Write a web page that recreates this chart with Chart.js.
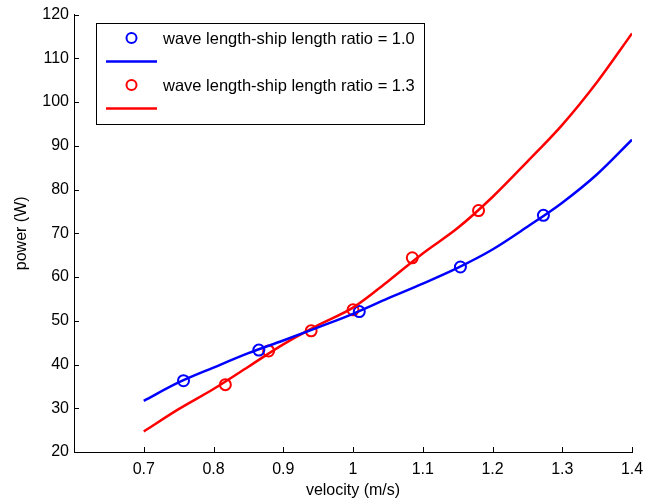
<!DOCTYPE html>
<html>
<head>
<meta charset="utf-8">
<script src="https://cdn.jsdelivr.net/npm/chart.js@4/dist/chart.umd.min.js"></script>
<style>
  html, body { margin: 0; padding: 0; background: #fff; }
  #wrap { width: 659px; height: 502px; }
</style>
</head>
<body>
<div id="wrap"><canvas id="chart" width="659" height="502"></canvas></div>
<script>
// curve samples (velocity m/s -> power W)
const velocidad = [0.70, 0.75, 0.80, 0.85, 0.90, 0.95, 1.00, 1.05, 1.10, 1.15, 1.20, 1.25, 1.30, 1.35, 1.40];
const potencia10 = [31.7, 35.9, 39.3, 42.6, 45.5, 48.5, 51.6, 55.1, 58.5, 62.1, 66.3, 71.5, 77.0, 83.5, 91.4];
const potencia13 = [24.7, 29.8, 34.4, 39.5, 44.6, 49.0, 53.0, 59.0, 65.4, 71.2, 78.3, 86.4, 94.8, 104.6, 115.7];

// measured points (circles)
const medX10 = [0.757, 0.865, 1.009, 1.154, 1.273];
const medY10 = [36.3, 43.3, 52.1, 62.3, 74.1];
const medX13 = [0.817, 0.879, 0.940, 1.000, 1.085, 1.180];
const medY13 = [35.4, 43.1, 47.7, 52.5, 64.4, 75.2];

const ticksX = [0.7, 0.8, 0.9, 1.0, 1.1, 1.2, 1.3, 1.4];
const ticksY = [20, 30, 40, 50, 60, 70, 80, 90, 100, 110, 120];

const etiquetas = ['wave length-ship length ratio = 1.0', 'wave length-ship length ratio = 1.3'];

const FUENTE = '"Liberation Sans", Arial, sans-serif';
const AZUL = '#0000ff';
const ROJO = '#ff0000';

const puntos = (xs, ys) => xs.map((x, i) => ({ x: x, y: ys[i] }));

// Ticks hacia adentro + leyenda estilo MATLAB
const extras = {
    id: 'extras',
    afterDraw(chart) {
        const c = chart.ctx;
        const sx = chart.scales.x, sy = chart.scales.y;
        const a = chart.chartArea;
        c.save();
        c.strokeStyle = '#000';
        c.lineWidth = 1;
        c.beginPath();
        ticksX.forEach(v => {
            const px = Math.round(sx.getPixelForValue(v)) + 0.5;
            c.moveTo(px, a.bottom);
            c.lineTo(px, a.bottom - 5);
        });
        ticksY.forEach(v => {
            const py = Math.round(sy.getPixelForValue(v)) + 0.5;
            c.moveTo(a.left, py);
            c.lineTo(a.left + 5, py);
        });
        c.stroke();

        // leyenda
        const bx = 96, by = 23, bw = 328, bh = 101;
        c.fillStyle = '#fff';
        c.fillRect(bx, by, bw, bh);
        c.strokeStyle = '#000';
        c.strokeRect(bx + 0.5, by + 0.5, bw, bh);
        [AZUL, ROJO].forEach((col, i) => {
            const y0 = by + 15 + i * 47;
            c.strokeStyle = col;
            c.lineWidth = 2;
            c.beginPath();
            c.arc(131.5, y0, 5, 0, Math.PI * 2);
            c.stroke();
            c.lineWidth = 2.5;
            c.beginPath();
            c.moveTo(106, y0 + 23.5);
            c.lineTo(157, y0 + 23.5);
            c.stroke();
            c.fillStyle = '#000';
            c.font = '16.5px ' + FUENTE;
            c.textBaseline = 'middle';
            c.fillText(etiquetas[i], 163, y0 + 1);
        });
        c.restore();
    }
};

const ctx = document.getElementById('chart').getContext('2d');
const grafica = new Chart(ctx, {
    type: 'scatter',
    data: {
        datasets: [
            {
                label: 'curva 1.0',
                data: puntos(velocidad, potencia10),
                showLine: true,
                borderColor: AZUL,
                borderWidth: 2.5,
                pointRadius: 0,
                cubicInterpolationMode: 'monotone',
                fill: false
            },
            {
                label: 'curva 1.3',
                data: puntos(velocidad, potencia13),
                showLine: true,
                borderColor: ROJO,
                borderWidth: 2.5,
                pointRadius: 0,
                cubicInterpolationMode: 'monotone',
                fill: false
            },
            {
                label: etiquetas[0],
                data: puntos(medX10, medY10),
                borderColor: AZUL,
                backgroundColor: 'transparent',
                pointRadius: 5.5,
                pointBorderWidth: 2
            },
            {
                label: etiquetas[1],
                data: puntos(medX13, medY13),
                borderColor: ROJO,
                backgroundColor: 'transparent',
                pointRadius: 5.5,
                pointBorderWidth: 2
            }
        ]
    },
    options: {
        responsive: false,
        animation: false,
        layout: { padding: { top: 13, right: 27, left: 12, bottom: 0 } },
        plugins: {
            legend: { display: false },
            tooltip: { enabled: false }
        },
        scales: {
            x: {
                type: 'linear',
                min: 0.6,
                max: 1.4,
                afterBuildTicks: s => { s.ticks = ticksX.map(v => ({ value: v })); },
                afterFit: s => { s.height = 50; },
                grid: { display: false, drawTicks: false },
                border: { display: true, color: '#000', width: 1 },
                ticks: {
                    color: '#000',
                    padding: 8,
                    maxRotation: 0,
                    font: { family: FUENTE, size: 16 },
                    callback: v => (Math.abs(v - 1) < 1e-9 ? '1' : v.toFixed(1))
                },
                title: {
                    display: true,
                    text: 'velocity (m/s)',
                    color: '#000',
                    padding: { top: 2, bottom: 2 },
                    font: { family: FUENTE, size: 16 }
                }
            },
            y: {
                type: 'linear',
                min: 20,
                max: 120,
                afterBuildTicks: s => { s.ticks = ticksY.map(v => ({ value: v })); },
                afterFit: s => { s.width = 62; },
                grid: { display: false, drawTicks: false },
                border: { display: true, color: '#000', width: 1 },
                ticks: {
                    color: '#000',
                    padding: 5,
                    font: { family: FUENTE, size: 16 }
                },
                title: {
                    display: true,
                    text: 'power (W)',
                    color: '#000',
                    padding: { top: 0, bottom: 8 },
                    font: { family: FUENTE, size: 16 }
                }
            }
        }
    },
    plugins: [extras]
});
</script>
</body>
</html>
